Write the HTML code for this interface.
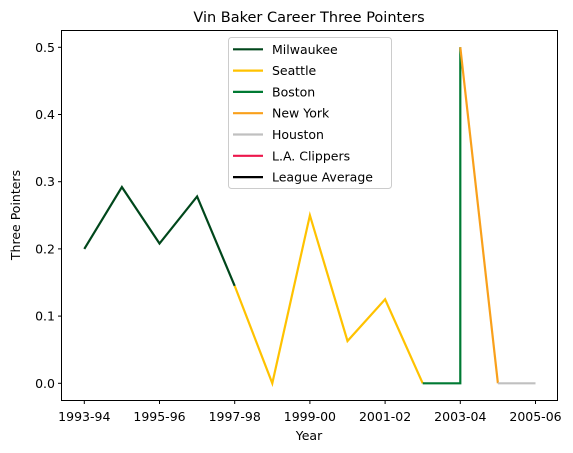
<!DOCTYPE html>
<html><head><meta charset="utf-8"><style>
body{margin:0;background:#fff;}
svg{display:block;font-family:"DejaVu Sans","Liberation Sans",sans-serif;}
</style></head><body>
<svg id="chart" width="573" height="453">
<rect width="573" height="453" fill="#fff"/>
<text x="309" y="22" text-anchor="middle" font-size="14.5" fill="#000">Vin Baker Career Three Pointers</text>
<g id="series"></g>
<rect x="61.5" y="30.5" width="496" height="370" fill="none" stroke="#000" stroke-width="1"/>
<g id="ticks"></g>
<text x="309" y="440" text-anchor="middle" font-size="12.5">Year</text>
<text transform="translate(20,215) rotate(-90)" text-anchor="middle" font-size="12.5">Three Pointers</text>
<g id="legend"></g>
</svg>
<script>
const seasons=["1993-94","1994-95","1995-96","1996-97","1997-98","1998-99","1999-00","2000-01","2001-02","2002-03","2003-04","2004-05","2005-06"];
const xTickLabels=["1993-94","1995-96","1997-98","1999-00","2001-02","2003-04","2005-06"];
const yTicks=[0,0.1,0.2,0.3,0.4,0.5];
const milwaukeeX=[0,1,2,3,4];
const milwaukeeY=[0.2,0.292,0.208,0.278,0.145];
const seattleX=[4,5,6,7,8,9];
const seattleY=[0.145,0,0.25,0.063,0.125,0];
const bostonX=[9,10,10];
const bostonY=[0,0,0.5];
const newYorkX=[10,11];
const newYorkY=[0.5,0];
const houstonX=[11,12];
const houstonY=[0,0];
const teams=["Milwaukee","Seattle","Boston","New York","Houston","L.A. Clippers","League Average"];
const teamColors=["#00471b","#ffc200","#007a33","#f9a01b","#c0c0c0","#ed174c","#000000"];

const NS="http://www.w3.org/2000/svg";
function xs(i){return 84.3+i*37.6;}
function ys(v){return 383.3-v*672;}
function mk(tag,attrs,parent){const e=document.createElementNS(NS,tag);for(const k in attrs)e.setAttribute(k,attrs[k]);parent.appendChild(e);return e;}
const series=document.getElementById('series');
const seriesDefs=[[milwaukeeX,milwaukeeY,0],[seattleX,seattleY,1],[bostonX,bostonY,2],[newYorkX,newYorkY,3],[houstonX,houstonY,4]];
seriesDefs.forEach(([X,Y,c])=>{
  const pts=X.map((x,i)=>xs(x).toFixed(1)+","+ys(Y[i]).toFixed(1)).join(" ");
  const pl=mk('polyline',{points:pts,fill:'none',stroke:teamColors[c],'stroke-width':2.2,'stroke-linejoin':'miter'},series);
  
  
});
const ticks=document.getElementById('ticks');
xTickLabels.forEach(l=>{
  const i=seasons.indexOf(l);const x=xs(i);
  const t=mk('line',{x1:x,x2:x,y1:400.5,y2:404,stroke:'#000'},ticks);
  
  
  const tx=mk('text',{x:x,y:421,'text-anchor':'middle','font-size':12.5},ticks);
  tx.textContent=l;
  
  
});
yTicks.forEach(v=>{
  const y=ys(v);
  const t=mk('line',{x1:58,x2:61.5,y1:y,y2:y,stroke:'#000'},ticks);
  
  
  const tx=mk('text',{x:55,y:y+4.5,'text-anchor':'end','font-size':12.5},ticks);
  tx.textContent=v.toFixed(1);
  
  
});
const lg=document.getElementById('legend');
const box=mk('rect',{x:228.5,y:37.5,width:163,height:151,rx:3,fill:'#fff','fill-opacity':0.8,stroke:'#ccc'},lg);


teams.forEach((n,i)=>{
  const y=49.3+i*21.3;
  const g=mk('g',{},lg);
  
  
  mk('line',{x1:233,x2:263,y1:y,y2:y,stroke:teamColors[i],'stroke-width':2.2},g);
  const t=mk('text',{x:272,y:y+4.5,'font-size':12.5},g);
  t.textContent=n;
});
</script>
</body></html>
